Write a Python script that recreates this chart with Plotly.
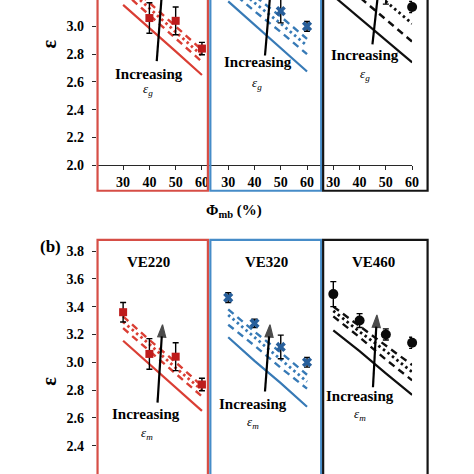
import plotly.graph_objects as go

# ---------------- data ----------------
phi = [30, 40, 50, 60]
phi_ticklabels = ["30", "40", "50", "60"]
grades = ["VE220", "VE320", "VE460"]
grade_shift = [0, 40, 80]          # block offset of each grade along the shared Φ axis

eps_VE220 = [3.36, 3.06, 3.04, 2.84]
err_VE220 = [0.07, 0.11, 0.10, 0.045]
eps_VE320 = [3.465, 3.28, 3.11, 3.00]
err_VE320 = [0.035, 0.03, 0.085, 0.035]
eps_VE460 = [3.49, 3.30, 3.20, 3.14]
err_VE460 = [0.09, 0.05, 0.04, 0.04]

# model curves (a) increasing eps_g : solid, dash, dot, dash
model_a_VE220 = [[3.155, 2.99, 2.82, 2.65], [3.25, 3.08, 2.91, 2.745],
                 [3.30, 3.13, 2.96, 2.79], [3.34, 3.17, 3.00, 2.83]]
model_a_VE320 = [[3.18, 3.01, 2.84, 2.675], [3.27, 3.11, 2.96, 2.80],
                 [3.33, 3.17, 3.02, 2.86], [3.38, 3.22, 3.07, 2.91]]
model_a_VE460 = [[3.22, 3.06, 2.90, 2.74], [3.37, 3.21, 3.05, 2.89],
                 [3.50, 3.34, 3.18, 3.02]]
# model curves (b) increasing eps_m
model_b_VE220 = [[3.155, 2.985, 2.815, 2.65], [3.245, 3.08, 2.92, 2.755],
                 [3.29, 3.13, 2.96, 2.80], [3.33, 3.16, 3.00, 2.83]]
model_b_VE320 = [[3.18, 3.01, 2.85, 2.68], [3.27, 3.12, 2.96, 2.81],
                 [3.34, 3.18, 3.02, 2.86], [3.38, 3.22, 3.07, 2.91]]
model_b_VE460 = [[3.23, 3.08, 2.92, 2.765], [3.33, 3.18, 3.02, 2.87],
                 [3.37, 3.22, 3.08, 2.93], [3.40, 3.26, 3.12, 2.98]]

# "Increasing" arrows (phi, eps) tail -> head
arrow_a = [[(42.8, 2.75), (45.0, 3.30)], [(44.0, 2.79), (46.3, 3.30)], [(44.9, 2.87), (47.4, 3.30)]]
arrow_b = [[(43.1, 2.71), (45.0, 3.27)], [(44.0, 2.79), (45.9, 3.27)], [(45.1, 2.82), (46.6, 3.34)]]

yticks_a = [2.0, 2.2, 2.4, 2.6, 2.8, 3.0, 3.2]
yticks_b = [2.0, 2.2, 2.4, 2.6, 2.8, 3.0, 3.2, 3.4, 3.6, 3.8]

# ---------------- style ----------------
FONT = "Liberation Serif"
line_col = ["rgb(218,62,52)", "rgb(55,122,182)", "rgb(15,15,15)"]
mark_col = ["rgb(190,28,28)", "rgb(40,95,155)", "rgb(10,10,10)"]
box_col = ["rgb(214,78,70)", "rgb(70,140,200)", "rgb(20,20,20)"]
symbols = ["square", "x", "circle"]
msizes = [8, 9, 10]
dashes = ["solid", "7px,5px", "2.5px,3.2px", "7px,5px"]
widths = [2.2, 2.4, 2.8, 2.4]

eps_all = [eps_VE220, eps_VE320, eps_VE460]
err_all = [err_VE220, err_VE320, err_VE460]
model_a = [model_a_VE220, model_a_VE320, model_a_VE460]
model_b = [model_b_VE220, model_b_VE320, model_b_VE460]

fig = go.Figure()

for row, (models, arrows, xa, ya) in enumerate([(model_a, arrow_a, "x", "y"),
                                                  (model_b, arrow_b, "x2", "y2")]):
    for g in range(3):
        xs = [p + grade_shift[g] for p in phi]
        for k, curve in enumerate(models[g]):
            fig.add_trace(go.Scatter(x=xs, y=curve, mode="lines", xaxis=xa, yaxis=ya,
                                     line=dict(color=line_col[g], width=widths[k], dash=dashes[k]),
                                     hoverinfo="skip"))
        (x0, y0), (x1, y1) = arrows[g]
        fig.add_trace(go.Scatter(x=[x0 + grade_shift[g], x1 + grade_shift[g]], y=[y0, y1],
                                 mode="lines+markers", xaxis=xa, yaxis=ya,
                                 line=dict(color="black", width=2.2),
                                 marker=dict(symbol="arrow", size=[0, 13], angleref="previous",
                                             color="black", line=dict(color="black", width=1.2)),
                                 hoverinfo="skip"))
        fig.add_trace(go.Scatter(x=xs, y=eps_all[g], mode="markers", xaxis=xa, yaxis=ya,
                                 cliponaxis=False,
                                 marker=dict(symbol=symbols[g], size=msizes[g], color=mark_col[g]),
                                 error_y=dict(type="data", array=err_all[g], color="black",
                                              thickness=1.4, width=3)))

# ---------------- axes ----------------
x_dom = [98.3 / 474, 418.3 / 474]
tickvals_x = [p + s for s in grade_shift for p in phi]
ticktext_x = phi_ticklabels * 3
tickfont = dict(family=FONT, size=14, color="black", weight="bold")

fig.update_layout(
    width=474, height=474, margin=dict(l=0, r=0, t=0, b=0),
    showlegend=False, plot_bgcolor="white", paper_bgcolor="white",
    xaxis=dict(domain=x_dom, range=[20, 140], anchor="y", tickvals=tickvals_x,
               ticktext=ticktext_x, showline=True, linecolor="rgb(40,40,40)", linewidth=1,
               ticks="outside", ticklen=4, tickcolor="rgb(40,40,40)", showgrid=False,
               zeroline=False, tickfont=tickfont),
    yaxis=dict(domain=[1 - 168 / 474, 1], range=[2.0, 3.19], anchor="x",
               tickvals=yticks_a, tickformat=".1f", ticks="outside", ticklen=4,
               tickcolor="rgb(40,40,40)", showline=False, showgrid=False, zeroline=False,
               tickfont=tickfont, ticklabelstandoff=5),
    xaxis2=dict(domain=x_dom, range=[20, 140], anchor="y2", visible=False),
    yaxis2=dict(domain=[0, 1 - 244 / 474], range=[2.254, 3.88], anchor="x2",
                tickvals=yticks_b, tickformat=".1f", ticks="outside", ticklen=4,
                tickcolor="rgb(40,40,40)", showline=False, showgrid=False, zeroline=False,
                tickfont=tickfont, ticklabelstandoff=5),
)

# ---------------- panel boxes ----------------
box_x = [(99, 211), (213.5, 326), (328, 434)]
for g in range(3):
    x0, x1 = box_x[g]
    for (ya0, ya1) in [(1 - 194 / 474, 1.05), (-0.05, 1 - 244 / 474)]:
        fig.add_shape(type="rect", xref="paper", yref="paper",
                      x0=x0 / 474, x1=x1 / 474, y0=ya0, y1=ya1,
                      line=dict(color=box_col[g], width=2.2), fillcolor="rgba(0,0,0,0)",
                      layer="above")

# ---------------- texts ----------------
bold = dict(family=FONT, color="black", weight="bold")
ctr = dict(showarrow=False, xanchor="center", yanchor="middle")
inc_a = [(40.0, 2.655), (81.3, 2.74), (121.9, 2.796)]
sub_a = [(39.4, 2.545), (80.9, 2.59), (122.1, 2.655)]
inc_b = [(38.7, 2.627), (79.5, 2.703), (120.1, 2.759)]
sub_b = [(39.1, 2.49), (79.5, 2.565), (120.0, 2.622)]
for g in range(3):
    fig.add_annotation(x=inc_a[g][0], y=inc_a[g][1], xref="x", yref="y", text="Increasing",
                       font=dict(bold, size=15), **ctr)
    fig.add_annotation(x=sub_a[g][0], y=sub_a[g][1], xref="x", yref="y",
                       text="<i>ε<sub>g</sub></i>", font=dict(family=FONT, size=13, color="black"),
                       **ctr)
    fig.add_annotation(x=inc_b[g][0], y=inc_b[g][1], xref="x2", yref="y2", text="Increasing",
                       font=dict(bold, size=15), **ctr)
    fig.add_annotation(x=sub_b[g][0], y=sub_b[g][1], xref="x2", yref="y2",
                       text="<i>ε<sub>m</sub></i>", font=dict(family=FONT, size=13, color="black"),
                       **ctr)
    fig.add_annotation(x=[151, 270, 379][g] / 474, y=1 - 266 / 474, xref="paper", yref="paper",
                       text=grades[g], font=dict(bold, size=15), **ctr)

fig.add_annotation(x=237 / 474, y=1 - 215 / 474, xref="paper", yref="paper",
                   text="Φ<sub>mb</sub> (%)", font=dict(bold, size=15), **ctr)
fig.add_annotation(x=51 / 474, y=1 - 251 / 474, xref="paper", yref="paper",
                   text="(b)", font=dict(bold, size=17), **ctr)
for yy in [45, 388]:
    fig.add_annotation(x=50 / 474, y=1 - yy / 474, xref="paper", yref="paper",
                       text="ε", textangle=-90, font=dict(bold, size=20), **ctr)

fig.write_html("out.html", config={"displayModeBar": False},
               post_script="document.body.style.margin='0';")
